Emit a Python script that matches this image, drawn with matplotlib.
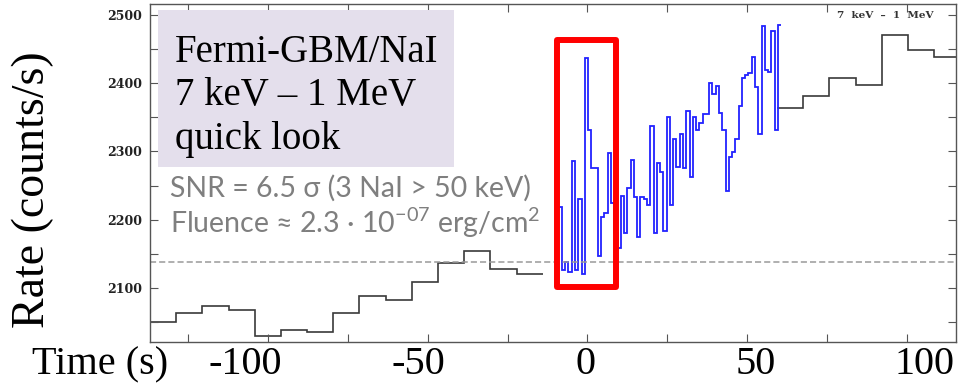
import matplotlib
matplotlib.use('Agg')
import matplotlib.pyplot as plt
from matplotlib.patches import Rectangle
from matplotlib.ticker import MultipleLocator

plt.rcParams['mathtext.default'] = 'regular'

# coarse bins (8.192 s) before and after the trigger
pre_edges = [-136.88, -128.69, -120.50, -112.30, -104.11, -95.92, -87.73, -79.54,
             -71.34, -63.15, -54.96, -46.77, -38.58, -30.38, -22.19, -14.00]
pre_rate = [2051, 2063, 2074, 2068, 2030, 2039, 2035, 2064, 2089, 2083, 2109,
            2136, 2155, 2128, 2121]

post_edges = [59.30, 67.49, 75.68, 83.88, 92.07, 100.26, 108.45, 116.64]
post_rate = [2364, 2381, 2408, 2398, 2470, 2449, 2439]

# fine bins (1.024 s) around the trigger
burst_edges = [-9.03, -8.01, -6.98, -5.96, -4.93, -3.91, -2.89, -1.86, -0.84, 0.19,
               1.21, 2.23, 3.26, 4.28, 5.31, 6.33, 7.35, 8.38, 9.40, 10.43,
               11.45, 12.47, 13.50, 14.52, 15.55, 16.57, 17.59, 18.62, 19.64, 20.67,
               21.69, 22.71, 23.74, 24.76, 25.79, 26.81, 27.83, 28.86, 29.88, 30.91,
               31.93, 32.95, 33.98, 35.00, 36.03, 37.05, 38.07, 39.10, 40.12, 41.15,
               42.17, 43.19, 44.22, 45.24, 46.27, 47.29, 48.31, 49.34, 50.36, 51.39,
               52.41, 53.43, 54.46, 55.48, 56.51, 57.53, 58.55, 59.58, 60.60]
burst_rate = [2219, 2126, 2138, 2124, 2286, 2127, 2231, 2120, 2437, 2331,
              2276, 2276, 2147, 2204, 2210, 2298, 2224, 2180, 2158, 2235,
              2181, 2247, 2288, 2233, 2175, 2233, 2230, 2221, 2337, 2180,
              2283, 2270, 2183, 2351, 2222, 2319, 2277, 2326, 2276, 2359,
              2262, 2350, 2332, 2342, 2355, 2355, 2400, 2384, 2396, 2357,
              2332, 2242, 2292, 2299, 2318, 2367, 2407, 2412, 2415, 2438,
              2394, 2325, 2484, 2420, 2416, 2476, 2331, 2485]

background = 2138
box_t = [-9.4, 9.06]
box_rate = [2101, 2463]

ytick_vals = [2100, 2200, 2300, 2400, 2500]
xtick_labels = ['-100', '-50', '0', '50', '100']
xlabel_pos = [-107.0, -53.0, -0.6, 52.5, 105.5]
box_lines = ['Fermi-GBM/NaI', '7 keV \u2013 1 MeV', 'quick look']

serif = 'Liberation Serif'
sans = ['Lato', 'DejaVu Sans']

fig = plt.figure(figsize=(9.61, 3.91), dpi=100)
ax = fig.add_axes([0.1561, 0.1253, 0.8387, 0.8645])

ax.stairs(pre_rate, pre_edges, baseline=None, color='#3a3a3a', lw=1.2)
ax.stairs(post_rate, post_edges, baseline=None, color='#3a3a3a', lw=1.2)
ax.stairs(burst_rate, burst_edges, baseline=None, color='#2222ff', lw=1.3)
ax.axhline(background, color='#9a9a9a', lw=1.1, ls=(0, (4, 2)))

ax.add_patch(Rectangle((box_t[0], box_rate[0]), box_t[1] - box_t[0],
                       box_rate[1] - box_rate[0], fill=False, ec='#ff0000',
                       lw=4.3, joinstyle='round', zorder=5))

ax.set_xlim(-136.88, 115.3)
ax.set_ylim(2021, 2516)
ax.xaxis.set_major_locator(MultipleLocator(25))
ax.set_xticklabels([])
ax.set_yticks(ytick_vals)
ax.yaxis.set_minor_locator(MultipleLocator(50))
ax.tick_params(which='both', direction='in', length=6, width=0.8, color='#555555',
               top=True, right=True)
ax.tick_params(axis='y', labelsize=9, pad=6, labelcolor='#222222')
for lab in ax.get_yticklabels():
    lab.set_fontfamily('DejaVu Serif')
    lab.set_fontweight('bold')
for sp in ax.spines.values():
    sp.set_color('#555555')
    sp.set_linewidth(1.0)

ax.text(0.972, 0.965, '7  keV  \u2013  1  MeV', transform=ax.transAxes, ha='right',
        va='center', fontsize=7.5, family='DejaVu Serif', weight='bold', color='#333333')

# big slide-style axis labels
for pos, lab in zip(xlabel_pos, xtick_labels):
    ax.text(pos, -0.068, lab, transform=ax.get_xaxis_transform(), ha='center',
            va='center', fontsize=29, family=serif, clip_on=False)
fig.text(100 / 961, 26 / 391, 'Time (s)', ha='center', va='center', fontsize=29,
         family=serif)
fig.text(33 / 961, 1 - 190 / 391, 'Rate (counts/s)', rotation=90, ha='center',
         va='center', fontsize=33, family=serif)

# info box
fig.patches.append(Rectangle((158 / 961, 1 - 167 / 391), 296 / 961, 157 / 391,
                             transform=fig.transFigure, fc='#e4dfec', ec='none',
                             zorder=3))
for i, line in enumerate(box_lines):
    fig.text(175 / 961, 1 - (62 + 43.5 * i) / 391, line, ha='left', va='baseline',
             fontsize=28, family=serif, zorder=4)

fig.text(170 / 961, 1 - 197 / 391, 'SNR = 6.5 \u03c3 (3 NaI > 50 keV)', ha='left',
         va='baseline', fontsize=20.5, family=sans, color='#7f7f7f')
fig.text(170 / 961, 1 - 233 / 391,
         'Fluence \u2248 2.3 \u00b7 10$^{-07}$ erg/cm$^{2}$', ha='left',
         va='baseline', fontsize=20.5, family=sans, color='#7f7f7f')

fig.savefig('out.png', dpi=100, facecolor='white')
